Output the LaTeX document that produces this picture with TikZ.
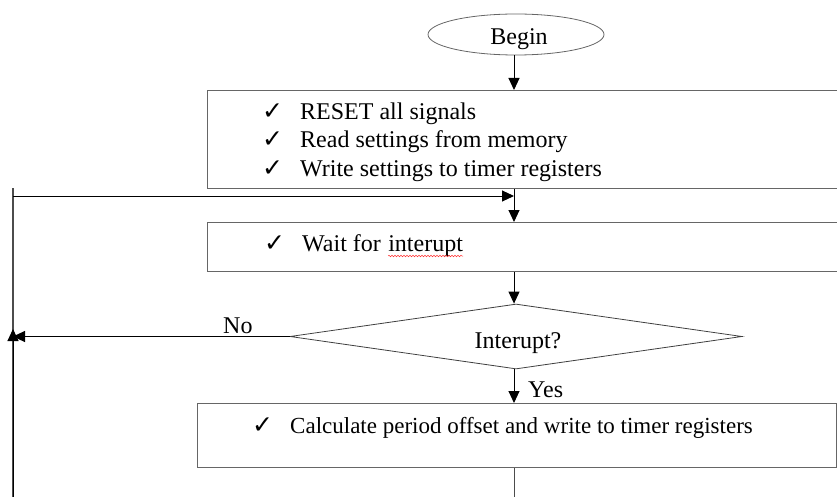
\documentclass[tikz,border=0pt]{standalone}
\usepackage{fontspec}
\setmainfont{Liberation Serif}
\newfontfamily\checkfont{DejaVu Sans}
\usetikzlibrary{arrows.meta,shapes.geometric,decorations.pathmorphing}
\begin{document}
\begin{tikzpicture}[x=1pt,y=-1pt,
  boxline/.style={draw=black!60, line width=1.4pt, rectangle, inner sep=0pt, anchor=north west},
  txt/.style={inner sep=0pt, anchor=base west, font=\fontsize{24}{28}\selectfont},
  chk/.style={inner sep=0pt, anchor=base west, font=\checkfont\fontsize{25}{28}\selectfont},
  arr/.style={draw=black, line width=1pt, -{Triangle[length=12pt,width=11pt]}},
  loopline/.style={draw=black!70, line width=1.5pt},
  squig/.style={draw=red!80, line width=0.5pt, decorate, decoration={snake, segment length=3pt, amplitude=0.8pt}},
]
\useasboundingbox (0,0) rectangle (837,497);
% column of the main flow
\coordinate (c) at (514,0);
% shapes
\node[ellipse, draw=black!60, line width=0.8pt, minimum width=176pt, minimum height=41pt, inner sep=0pt] (begin) at (516,34.5) {};
\node[txt, anchor=base] (begintxt) at (519,45) {Begin};
\node[boxline, minimum width=643pt, minimum height=98pt] (b1) at (207,90) {};
\node[boxline, minimum width=643pt, minimum height=49pt] (b2) at (207,222) {};
\node[diamond, draw=black!75, line width=0.8pt, minimum width=452pt, minimum height=65pt, inner sep=0pt, aspect=6.95] (dec) at (516,336.5) {};
\node[boxline, minimum width=639pt, minimum height=64pt] (b3) at (197,403) {};
% texts box 1
\node[chk] (k1) at (262,120) {✓};
\node[txt] (t1) at (300,120) {RESET all signals};
\node[chk] (k2) at (262,148) {✓};
\node[txt] (t2) at (300,148) {Read settings from memory};
\node[chk] (k3) at (262,176) {✓};
\node[txt] (t3) at (300,176) {Write settings to timer registers};
% box 2
\node[chk] (k4) at (264,251) {✓};
\node[txt] (w1) at (302,251) {Wait for};
\node[txt, xshift=7pt] (w2) at (w1.base east) {interupt};
\draw[squig] ([yshift=-5pt]w2.base west) -- ([yshift=-5pt]w2.base east);
% decision
\node[txt, anchor=base] (dtxt) at (518,348) {Interupt?};
% box 3
\node[chk] (k5) at (252,433) {✓};
\node[txt, font=\fontsize{23}{28}\selectfont] (t5) at (290,433) {Calculate period offset and write to timer registers};
% loop coordinates
\coordinate (lt) at (13,188);
\coordinate (lb) at (13,497);
\coordinate (lh) at (13,196);
\coordinate (lup) at (13,329);
\coordinate (bot) at (514,497);
% connectors
\draw[arr] (begin.south -| c) -- (b1.north -| c);
\draw[arr] (b1.south -| c) -- (b2.north -| c);
\draw[arr] (b2.south -| c) -- (dec.north -| c);
\draw[arr] (dec.south -| c) -- (b3.north -| c);
\node[txt] (yes) at (528,397) {Yes};
\draw[line width=1pt, draw=black!70] (b3.south -| c) -- (bot);
\draw[loopline] (lt) -- (lb);
\draw[arr] (lb) -- (lup);
\draw[arr] (dec.west) -- (dec.west -| lt);
\node[txt] (no) at (223,333) {No};
\draw[arr] (lh) -- (lh -| c);
\end{tikzpicture}
\end{document}
